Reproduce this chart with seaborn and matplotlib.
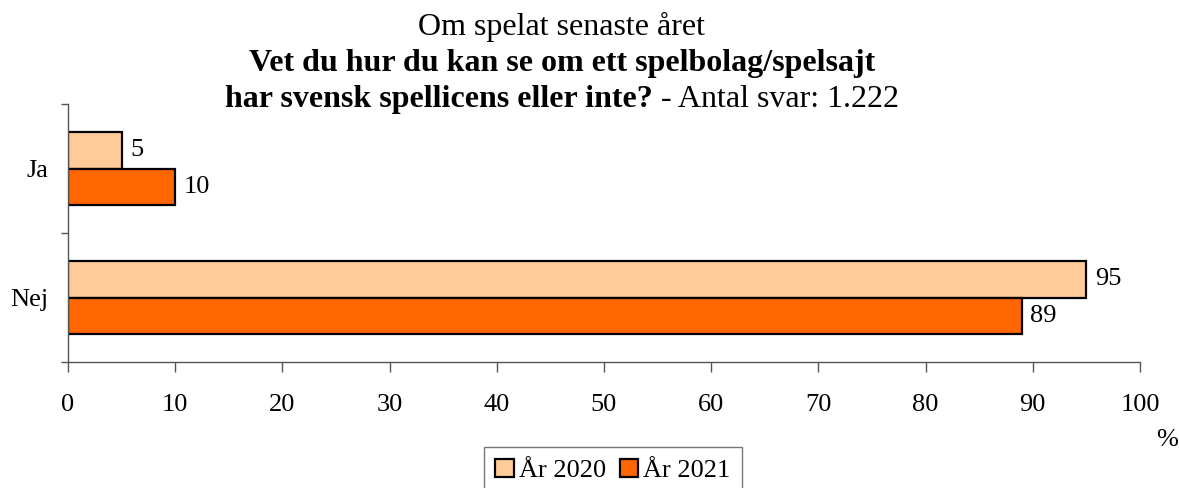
import matplotlib.pyplot as plt
import seaborn as sns
import pandas as pd
from matplotlib.patches import Patch

categories = ["Ja", "Nej"]
years = ["År 2020", "År 2021"]
values_2020 = [5, 95]
values_2021 = [10, 89]
x_ticks = [0, 10, 20, 30, 40, 50, 60, 70, 80, 90, 100]

colors = {
    "År 2020": "#FFCC99",
    "År 2021": "#FF6600",
}

df = pd.DataFrame({
    "category": categories * 2,
    "year": [years[0]] * len(categories) + [years[1]] * len(categories),
    "value": values_2020 + values_2021,
})

sns.set_theme(style="white")
plt.rcParams["font.family"] = ["Liberation Serif", "DejaVu Serif"]
plt.rcParams["text.color"] = "black"
fs = 19
tfs = 23

fig = plt.figure(figsize=(11.79, 4.88), dpi=100)
ax = fig.add_axes([68 / 1179, 1 - 362 / 488, (1140 - 68) / 1179, (362 - 104) / 488])

sns.barplot(data=df, x="value", y="category", hue="year", order=categories,
            hue_order=years, palette=colors, saturation=1, orient="h", width=0.57,
            edgecolor="black", linewidth=1.6, legend=False, ax=ax)

for container in ax.containers:
    ax.bar_label(container, fmt="%g", padding=6, fontsize=fs, color="black")

ax.set_xlim(0, 100)
ax.set_ylim(1.5, -0.5)
ax.set_xticks(x_ticks)
ax.set_xticklabels([str(t) for t in x_ticks], fontsize=fs)
ax.set_yticks([-0.5, 0.5, 1.5])
ax.set_yticklabels([])
ax.set_yticks([0, 1], minor=True)
ax.set_yticklabels(categories, minor=True, fontsize=fs)
ax.tick_params(axis="x", which="major", direction="out", length=7, width=1,
               color="#555555", pad=16, bottom=True, labelcolor="black")
ax.tick_params(axis="y", which="major", direction="out", length=5, width=1,
               color="#555555", left=True)
ax.tick_params(axis="y", which="minor", length=0, pad=14, left=True, labelcolor="black")
ax.set_xlabel("")
ax.set_ylabel("")
for side in ["top", "right"]:
    ax.spines[side].set_visible(False)
for side in ["left", "bottom"]:
    ax.spines[side].set_color("#555555")
    ax.spines[side].set_linewidth(1)

# title, mixed bold / normal on the last line
cx = 562 / 1179
fig.text(cx, 1 - 35 / 488, "Om spelat senaste året", ha="center", va="baseline", fontsize=tfs)
fig.text(cx, 1 - 71 / 488, "Vet du hur du kan se om ett spelbolag/spelsajt",
         ha="center", va="baseline", fontsize=tfs, fontweight="bold")
t_bold = fig.text(0, 1 - 107 / 488, "har svensk spellicens eller inte?",
                  ha="left", va="baseline", fontsize=tfs, fontweight="bold")
t_norm = fig.text(0, 1 - 107 / 488, " - Antal svar: 1.222",
                  ha="left", va="baseline", fontsize=tfs)
renderer = fig.canvas.get_renderer()
w_bold = t_bold.get_window_extent(renderer).width / fig.bbox.width
w_norm = t_norm.get_window_extent(renderer).width / fig.bbox.width
start = cx - (w_bold + w_norm) / 2
t_bold.set_x(start)
t_norm.set_x(start + w_bold)

fig.text(1167 / 1179, 1 - 440 / 488, "%", ha="center", va="center", fontsize=fs)

handles = [Patch(facecolor=colors[y], edgecolor="black", linewidth=1.6, label=y) for y in years]
leg = fig.legend(handles=handles, loc="lower center", bbox_to_anchor=(613 / 1179, -0.012),
                 ncol=2, fontsize=fs, frameon=True, fancybox=False, handlelength=0.7,
                 handleheight=0.7, handletextpad=0.2, columnspacing=0.5, borderpad=0.45,
                 borderaxespad=0)
leg.get_frame().set_edgecolor("#555555")
leg.get_frame().set_linewidth(1)
for txt in leg.get_texts():
    txt.set_color("black")

fig.savefig("out.png", dpi=100)
